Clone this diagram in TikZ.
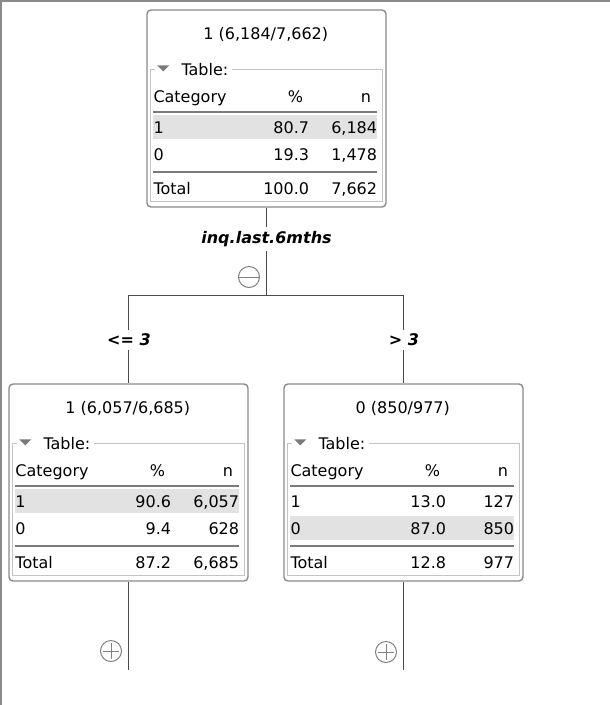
\documentclass[tikz,border=0pt]{standalone}
\usepackage{fontspec}
\setmainfont{DejaVu Sans}

\definecolor{boxgray}{HTML}{8A8A8A}
\definecolor{grpgray}{HTML}{C4C4C4}
\definecolor{rowgray}{HTML}{E2E2E2}
\definecolor{rulegray}{HTML}{7A7A7A}
\definecolor{linegray}{HTML}{4A4A4A}

\tikzset{
  treebox/.style={draw=boxgray, line width=1.4pt, rounded corners=4pt, fill=white,
    minimum width=239pt, minimum height=197pt, inner sep=0pt},
  grpbox/.style={draw=grpgray, line width=1pt},
  tablerule/.style={draw=rulegray, line width=2pt},
  cell/.style={inner sep=0pt, font=\fontsize{16}{19}\selectfont},
  edge/.style={draw=linegray, line width=1pt},
  cond/.style={fill=white, inner xsep=2pt, inner ysep=4pt,
    font=\fontsize{16}{19}\selectfont\bfseries\itshape},
  toggle/.style={circle, draw=gray, line width=1pt, minimum size=21pt, inner sep=0pt}
}

% 表の中身 (#1 ノード名, #2 見出し, #3-#8 数値, #9 強調する行)
\newcommand\splittable[9]{%
  \begin{scope}[shift={(#1.north west)}]
    \fill[rowgray] (7,#9-12) rectangle (231,#9+12);
    \node[cell, anchor=base] (#1-title) at (119.5,30) {#2};
    \draw[grpbox] (9,60) -- (4,60) -- (4,192) -- (236,192) -- (236,60) -- (86,60);
    \fill[rulegray] (11,56) -- (23,56) -- (17,62) -- cycle;
    \node[cell, anchor=base west] (#1-table) at (35,66) {Table:};
    % 見出し
    \node[cell, anchor=base west] (#1-cat) at (7,93) {Category};
    \node[cell, anchor=base east] (#1-pct) at (157,93) {\%};
    \node[cell, anchor=base east] (#1-n) at (225,93) {n};
    \draw[tablerule] (7,103) -- (231,103);
    % 行
    \node[cell, anchor=base west] (#1-a) at (7,124) {1};
    \node[cell, anchor=base east] (#1-ap) at (163,124) {#3};
    \node[cell, anchor=base east] (#1-an) at (231,124) {#4};
    \node[cell, anchor=base west] (#1-b) at (7,151) {0};
    \node[cell, anchor=base east] (#1-bp) at (163,151) {#5};
    \node[cell, anchor=base east] (#1-bn) at (231,151) {#6};
    \draw[tablerule] (7,162.5) -- (231,162.5);
    \node[cell, anchor=base west] (#1-tot) at (7,185) {Total};
    \node[cell, anchor=base east] (#1-tp) at (163,185) {#7};
    \node[cell, anchor=base east] (#1-tn) at (231,185) {#8};
  \end{scope}}

\begin{document}
\begin{tikzpicture}[x=1pt, y=-1pt]
  \useasboundingbox (0,0) rectangle (610,705);
  % 枠
  \draw[boxgray, line width=2pt] (1,705) -- (1,1) -- (610,1);

  % ノード
  \node[treebox] (root) at (266.5,108.5) {};
  \node[treebox] (lnode) at (128.5,482.5) {};
  \node[treebox] (rnode) at (403.5,482.5) {};

  \splittable{root}{1 (6,184/7,662)}{80.7}{6,184}{19.3}{1,478}{100.0}{7,662}{118}
  \splittable{lnode}{1 (6,057/6,685)}{90.6}{6,057}{9.4}{628}{87.2}{6,685}{118}
  \splittable{rnode}{0 (850/977)}{13.0}{127}{87.0}{850}{12.8}{977}{145}

  % 枝
  \coordinate (fork) at (266.5,295);
  \coordinate (lfork) at (128.5,295);
  \coordinate (rfork) at (403.5,295);
  \coordinate (lend) at (128.5,670);
  \coordinate (rend) at (403.5,670);
  \draw[edge] (root.south) -- (fork);
  \draw[edge] (lfork) -- (rfork);
  \draw[edge] (lfork) -- (lnode.north);
  \draw[edge] (rfork) -- (rnode.north);
  \draw[edge] (lnode.south) -- (lend);
  \draw[edge] (rnode.south) -- (rend);

  % 条件
  \node[cond] (split) at (266.5,239) {inq.last.6mths};
  \node[cond] (lcond) at (129,340) {<= 3};
  \node[cond] (rcond) at (404,340) {> 3};

  % 開閉ボタン
  \node[toggle] (roottog) at (249,277) {};
  \draw[gray, line width=1pt] ([xshift=1pt]roottog.west) -- ([xshift=-1pt]roottog.east);
  \node[toggle] (ltog) at (111,651) {};
  \draw[gray, line width=1pt] ([xshift=3pt]ltog.west) -- ([xshift=-3pt]ltog.east)
    ([yshift=-3pt]ltog.north) -- ([yshift=3pt]ltog.south);
  \node[toggle] (rtog) at (386,652) {};
  \draw[gray, line width=1pt] ([xshift=3pt]rtog.west) -- ([xshift=-3pt]rtog.east)
    ([yshift=-3pt]rtog.north) -- ([yshift=3pt]rtog.south);
\end{tikzpicture}
\end{document}
